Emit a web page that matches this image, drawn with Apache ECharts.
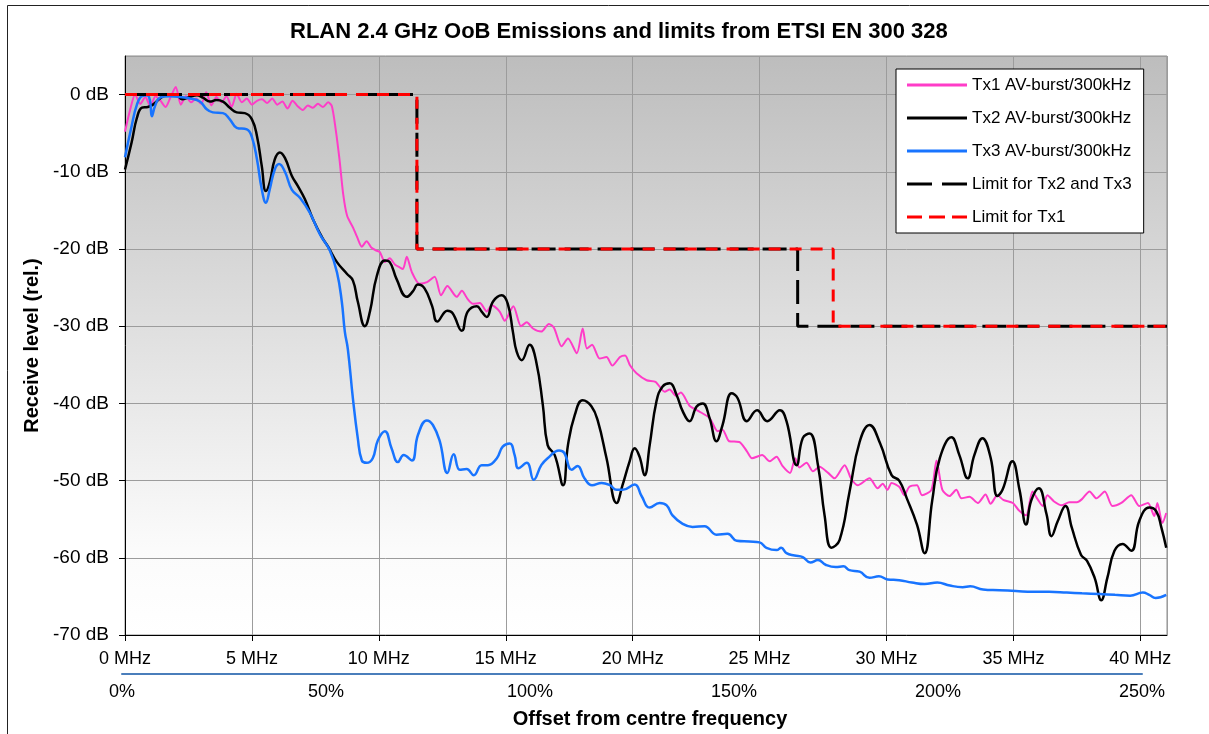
<!DOCTYPE html>
<html>
<head>
<meta charset="utf-8">
<script src="https://cdn.jsdelivr.net/npm/echarts@6/dist/echarts.min.js"></script>
<style>
html, body { margin: 0; padding: 0; background: #fff; }
#chart { width: 1209px; height: 734px; }
</style>
</head>
<body>
<div id="chart"></div>
<script>
// offset from centre frequency in MHz, receive level in dB (rel.)
const tx1 = [
	[0, -4.8], [0.2, -2], [0.4, 0], [0.6, -1.2], [0.8, -0.3], [1.0, -1.5], [1.2, -0.2], [1.4, -0.8],
	[1.6, -1.6], [1.8, -0.3], [2.0, 1.0], [2.2, -1.3], [2.4, -0.2], [2.6, -1.0], [2.8, -0.5], [3.0, -1.2],
	[3.2, 0.3], [3.4, -1.4], [3.6, -0.3], [3.8, -1.0], [4.0, -0.2], [4.2, -1.6], [4.4, 0.1], [4.6, -1.0],
	[4.8, -0.5], [5.0, -1.3], [5.2, -0.8], [5.4, -0.6], [5.6, -1.1], [5.8, -0.5], [6.0, -1.3], [6.2, -0.9],
	[6.4, -1.8], [6.6, -0.8], [6.8, -1.5], [7.0, -2.0], [7.2, -1.4], [7.4, -1.7], [7.6, -1.2], [7.8, -1.6],
	[8.0, -1.0], [8.15, -1.5], [8.3, -4.5], [8.45, -8.4], [8.6, -13], [8.75, -15.7], [8.98, -17.2],
	[9.15, -18.5], [9.33, -19.7], [9.52, -19], [9.7, -19.8], [9.9, -20.2], [10.04, -20.4], [10.24, -21.7],
	[10.43, -21.2], [10.63, -22], [10.83, -22.4], [10.95, -22.6], [11.1, -21], [11.3, -23], [11.6, -24.5],
	[11.9, -24.3], [12.2, -23.6], [12.45, -26], [12.7, -24.8], [13.07, -26.2], [13.27, -25.4], [13.5, -26.5],
	[13.7, -27.1], [13.98, -27], [14.25, -28.1], [14.45, -27.3], [14.76, -28.1], [14.96, -29.3], [15.3, -27.4],
	[15.6, -30], [15.83, -29.5], [16.07, -30.3], [16.4, -30.7], [16.7, -29.7], [16.9, -30.2], [17.2, -32.6],
	[17.45, -31.6], [17.8, -33.5], [18.03, -30.3], [18.2, -32.9], [18.4, -32.4], [18.7, -34.2], [18.97, -34],
	[19.2, -35.1], [19.5, -34], [19.7, -33.8], [19.9, -35.1], [20.15, -36.1], [20.55, -37], [20.9, -37.2],
	[21.26, -38.5], [21.46, -38.2], [21.7, -39], [21.9, -38.6], [22.24, -40.3], [22.6, -41], [23.03, -41.9],
	[23.35, -43.6], [23.54, -43.4], [23.8, -44.9], [24.2, -45], [24.5, -46.2], [24.7, -47.1], [25.1, -46.7],
	[25.4, -47.5], [25.67, -46.9], [25.9, -48.1], [26.2, -49], [26.4, -47.1], [26.57, -48.3], [26.85, -47.7],
	[27.1, -48.8], [27.36, -48.2], [27.7, -49], [27.95, -49.7], [28.35, -48], [28.6, -49.7], [28.86, -50.6],
	[29.33, -49.7], [29.65, -51], [29.85, -50.4], [30.04, -51.2], [30.2, -50.3], [30.5, -50.8], [30.7, -51.9],
	[30.9, -50.8], [31.2, -50.6], [31.4, -51.9], [31.77, -51.2], [31.97, -47.4], [32.2, -51.2], [32.48, -52],
	[32.75, -51.2], [32.95, -52.3], [33.27, -52.1], [33.6, -52.9], [33.9, -51.8], [34.1, -53], [34.37, -51.9],
	[34.6, -52.5], [34.98, -52.9], [35.2, -53.8], [35.5, -54.5], [35.75, -51.4], [35.95, -52.4], [36.15, -53.3],
	[36.34, -51.9], [36.6, -52.7], [36.9, -53.2], [37.2, -52.8], [37.5, -52.8], [37.7, -52.4], [38.0, -51.4],
	[38.27, -52.3], [38.6, -51.4], [38.9, -53.3], [39.25, -52.9], [39.64, -51.9], [39.96, -53.3], [40.3, -52.9],
	[40.55, -54.6], [40.67, -52.9], [40.87, -55.5], [41.02, -54.2]
]
const tx2 = [
	[0, -9.7], [0.26, -6.2], [0.47, -3], [0.67, -1.7], [0.9, -1.6], [1.1, -1.3], [1.38, -0.5], [1.65, -0.1],
	[2.04, -0.1], [2.24, -0.6], [2.56, -0.3], [2.83, -0.1], [3.07, -0.4], [3.35, -0.9], [3.6, -0.7], [3.86, -0.9],
	[4.13, -1.7], [4.4, -2.3], [4.72, -2.4], [5.0, -3.2], [5.2, -5.4], [5.39, -9.3], [5.55, -12.5], [5.7, -11.4],
	[5.9, -8.4], [6.1, -7.5], [6.3, -8.2], [6.57, -10.5], [6.8, -11.8], [7.08, -13.5], [7.4, -16.1], [7.78, -18.6],
	[8.0, -19.7], [8.35, -21.7], [8.74, -23.2], [8.98, -24.1], [9.17, -26.8], [9.45, -30], [9.65, -28.1],
	[9.92, -23.5], [10.24, -21.5], [10.43, -21.7], [10.7, -23.9], [11.1, -26.2], [11.34, -25.5], [11.54, -24.6],
	[11.8, -25.1], [12.1, -27.4], [12.3, -29.4], [12.7, -28], [12.9, -28.3], [13.27, -30.6], [13.5, -28.1],
	[13.86, -27.4], [14.05, -28.1], [14.25, -28.8], [14.5, -26.8], [14.84, -26], [15.08, -27.1], [15.28, -30.7],
	[15.43, -33.3], [15.63, -34.4], [15.94, -32.4], [16.2, -34.6], [16.46, -40.2], [16.65, -45.4], [16.93, -46.7],
	[17.26, -50.6], [17.45, -45.4], [17.72, -41.5], [18.03, -39.6], [18.38, -40.4], [18.63, -42.3], [18.97, -47.1],
	[19.37, -52.9], [19.6, -50.6], [19.88, -47.5], [20.08, -45.8], [20.27, -46.9], [20.47, -49.3], [20.67, -45.4],
	[20.94, -39.7], [21.18, -37.8], [21.46, -37.4], [21.73, -38.9], [21.97, -41], [22.24, -42.3], [22.52, -40.4],
	[22.76, -40], [23.03, -41.9], [23.3, -44.9], [23.54, -42.8], [23.9, -38.7], [24.13, -39.3], [24.5, -42.3],
	[24.9, -40.9], [25.3, -42.3], [25.8, -40.9], [26.06, -42.3], [26.46, -48], [26.7, -44.5], [26.97, -43.9],
	[27.3, -48], [27.56, -54.5], [27.83, -58.7], [28.15, -57.7], [28.54, -51.5], [28.94, -45], [29.33, -42.8],
	[29.75, -45.2], [30.2, -49.3], [30.5, -50], [30.8, -52.3], [31.2, -55.7], [31.5, -59.4], [31.8, -52.6],
	[32.1, -47.1], [32.56, -44.4], [32.87, -46.7], [33.2, -49.7], [33.46, -46.7], [33.78, -44.5], [34.1, -47],
	[34.37, -52], [34.57, -51.2], [34.96, -47.5], [35.24, -51.2], [35.5, -55.7], [35.7, -52.6], [36.0, -51],
	[36.3, -54.3], [36.5, -57.2], [36.74, -55.3], [37.05, -53.3], [37.3, -56.1], [37.66, -59.6], [37.9, -60.4],
	[38.2, -62.6], [38.46, -65.5], [38.7, -62.6], [38.98, -59.1], [39.3, -58.2], [39.64, -59.1], [39.96, -55.2],
	[40.35, -53.5], [40.63, -54], [40.83, -56.1], [41.02, -58.7]
]
const tx3 = [
	[0, -8.1], [0.26, -4.1], [0.47, -1.3], [0.67, -0.2], [0.87, -0.1], [0.98, -0.7], [1.06, -2.8], [1.18, -1.5],
	[1.38, -0.4], [1.77, -0.2], [2.17, -0.3], [2.56, -0.5], [2.95, -0.9], [3.22, -1.9], [3.46, -2.3], [3.86, -2.4],
	[4.13, -3.2], [4.4, -4.3], [4.8, -4.5], [5.0, -5.5], [5.2, -8.4], [5.39, -12.3], [5.55, -14], [5.7, -12.3],
	[5.9, -9.7], [6.07, -9], [6.3, -10], [6.57, -12.3], [6.9, -13.4], [7.28, -15.3], [7.68, -18.1], [8.07, -20.2],
	[8.35, -23], [8.54, -26.8], [8.66, -30.7], [8.78, -33], [8.98, -39.4], [9.17, -44.5], [9.33, -47.4],
	[9.52, -47.7], [9.76, -47.1], [9.96, -44.8], [10.24, -43.6], [10.5, -45.8], [10.75, -47.6], [10.98, -46.7],
	[11.3, -47.4], [11.54, -44.1], [11.89, -42.2], [12.13, -42.8], [12.4, -44.9], [12.7, -49], [12.95, -46.6],
	[13.19, -48.6], [13.46, -48.5], [13.74, -49.3], [14.05, -48], [14.3, -48], [14.65, -47.1], [14.88, -45.6],
	[15.16, -45.2], [15.35, -46.7], [15.5, -48.4], [15.83, -47.7], [16.1, -49.9], [16.4, -48], [16.65, -47.1],
	[17.1, -46.1], [17.3, -46.4], [17.6, -48.6], [17.83, -48.1], [18.1, -49.7], [18.4, -50.6], [18.78, -50.3],
	[19.1, -50.6], [19.37, -51.2], [19.6, -51.2], [20.08, -50.5], [20.35, -52], [20.67, -53.5], [21.06, -52.9],
	[21.34, -53.2], [21.57, -54.5], [21.97, -55.6], [22.36, -56], [22.83, -55.9], [23.3, -57], [23.74, -56.9],
	[24.1, -57.8], [24.6, -57.9], [25, -58], [25.27, -58.7], [25.67, -59], [25.85, -58.7], [26.06, -59.4],
	[26.38, -59.7], [26.7, -59.9], [27.0, -60.6], [27.3, -60.3], [27.6, -60.9], [28.0, -61.2], [28.3, -61.1],
	[28.54, -61.6], [28.94, -61.8], [29.33, -62.6], [29.7, -62.4], [30.04, -62.8], [30.5, -62.9], [31.0, -63.2],
	[31.5, -63.4], [32.0, -63.2], [32.5, -63.6], [33.0, -63.8], [33.3, -63.7], [33.8, -64.1], [34.45, -64.2],
	[35.1, -64.3], [35.75, -64.4], [36.4, -64.4], [37.1, -64.5], [37.7, -64.6], [38.4, -64.7], [39.0, -64.8],
	[39.6, -64.9], [40.1, -64.5], [40.35, -64.8], [40.6, -65.2], [41.02, -64.8]
]
const limitTx23 = [[0, 0], [11.5, 0], [11.5, -20], [26.5, -20], [26.5, -30], [41.05, -30]]
const limitTx1 = [[0, 0], [11.5, 0], [11.5, -20], [27.9, -20], [27.9, -30], [41.05, -30]]

const xMax = 41.05
const pctTicks = [0, 50, 100, 150, 200, 250]

const FONT = '"Liberation Sans", Arial, sans-serif'

// legend samples drawn as paths (solid / long dash / dash)
const ICON_SOLID = 'path://M0,0H60V3H0Z'
const ICON_LONGDASH = 'path://M0,0H25V3H0Z M35,0H60V3H35Z'
const ICON_DASH = 'path://M0,0H15V3H0Z M22,0H38V3H22Z M45,0H60V3H45Z'

const chart = echarts.init(document.getElementById('chart'))

const line = (name, data, color, width, smooth, dash) => ({
	name: name,
	type: 'line',
	data: data,
	showSymbol: false,
	symbol: 'none',
	smooth: smooth,
	lineStyle: { color: color, width: width, type: dash || 'solid' },
	itemStyle: { color: color },
	animation: false
})

const option = {
	backgroundColor: '#fff',
	title: {
		text: 'RLAN 2.4 GHz OoB Emissions and limits from ETSI EN 300 328',
		left: 285,
		top: 16,
		textStyle: { fontFamily: FONT, fontSize: 22, fontWeight: 'bold', color: '#000' }
	},
	graphic: [{
		type: 'rect',
		shape: { x: 7.5, y: 5.5, width: 1300, height: 800 },
		style: { fill: 'none', stroke: '#222', lineWidth: 1 },
		z: -1
	}],
	legend: {
		orient: 'vertical',
		left: 896,
		top: 69,
		padding: [6, 12, 6, 11],
		itemWidth: 60,
		itemHeight: 3,
		itemGap: 13,
		backgroundColor: '#fff',
		borderColor: '#000',
		borderWidth: 1,
		textStyle: { fontFamily: FONT, fontSize: 17, color: '#000', lineHeight: 20 },
		data: [
			{ name: 'Tx1 AV-burst/300kHz', icon: ICON_SOLID },
			{ name: 'Tx2 AV-burst/300kHz', icon: ICON_SOLID },
			{ name: 'Tx3 AV-burst/300kHz', icon: ICON_SOLID },
			{ name: 'Limit for Tx2 and Tx3', icon: ICON_LONGDASH },
			{ name: 'Limit for Tx1', icon: ICON_DASH }
		]
	},
	grid: [{
		left: 125,
		right: 42,
		top: 56,
		bottom: 97,
		show: true,
		borderColor: '#8c8c8c',
		borderWidth: 1,
		backgroundColor: {
			type: 'linear', x: 0, y: 0, x2: 0, y2: 1,
			colorStops: [
				{ offset: 0, color: '#bdbdbd' },
				{ offset: 0.85, color: '#fbfbfb' },
				{ offset: 1, color: '#ffffff' }
			]
		}
	}, {
		left: 122,
		right: 67,
		top: 673,
		height: 1
	}],
	xAxis: [{
		type: 'value',
		gridIndex: 0,
		min: 0,
		max: xMax,
		interval: 5,
		name: 'Offset from centre frequency',
		nameLocation: 'middle',
		nameGap: 74,
		nameTextStyle: { fontFamily: FONT, fontSize: 20, fontWeight: 'bold', color: '#000', padding: [0, 0, 0, 8] },
		axisLine: { onZero: false, lineStyle: { color: '#000', width: 1 } },
		axisTick: { show: true, length: 6, lineStyle: { color: '#000' } },
		axisLabel: {
			showMaxLabel: false,
			margin: 15,
			fontFamily: FONT,
			fontSize: 18,
			color: '#000',
			formatter: '{value} MHz'
		},
		splitLine: { show: true, lineStyle: { color: '#9c9c9c', width: 1 } }
	}, {
		type: 'value',
		gridIndex: 1,
		position: 'bottom',
		min: pctTicks[0],
		max: pctTicks[pctTicks.length - 1],
		interval: 50,
		axisLine: { onZero: false, lineStyle: { color: '#4a7ebb', width: 2 } },
		axisTick: { show: false },
		axisLabel: {
			margin: 9,
			fontFamily: FONT,
			fontSize: 18,
			color: '#000',
			formatter: '{value}%'
		},
		splitLine: { show: false }
	}],
	yAxis: [{
		type: 'value',
		gridIndex: 0,
		min: -70,
		max: 5,
		interval: 10,
		name: 'Receive level (rel.)',
		nameLocation: 'middle',
		nameGap: 83,
		nameTextStyle: { fontFamily: FONT, fontSize: 20, fontWeight: 'bold', color: '#000' },
		axisLine: { show: true, onZero: false, lineStyle: { color: '#000', width: 1 } },
		axisTick: { show: true, length: 6, lineStyle: { color: '#000' } },
		axisLabel: {
			showMaxLabel: false,
			margin: 16,
			fontFamily: FONT,
			fontSize: 19,
			color: '#000',
			formatter: '{value} dB'
		},
		splitLine: { show: true, lineStyle: { color: '#9c9c9c', width: 1 } }
	}, {
		type: 'value',
		gridIndex: 1,
		show: false,
		min: 0,
		max: 1
	}],
	series: [
		line('Tx1 AV-burst/300kHz', tx1, '#ff3cc8', 2, 0.25),
		line('Tx2 AV-burst/300kHz', tx2, '#000000', 2.5, 0.45),
		line('Tx3 AV-burst/300kHz', tx3, '#1874ff', 2.5, 0.45),
		line('Limit for Tx2 and Tx3', limitTx23, '#000000', 3, false, [24, 9]),
		line('Limit for Tx1', limitTx1, '#ff0000', 3, false, [12, 9]),
		{
			type: 'line',
			xAxisIndex: 1,
			yAxisIndex: 1,
			data: [],
			silent: true
		}
	]
}

chart.setOption(option)
</script>
</body>
</html>
